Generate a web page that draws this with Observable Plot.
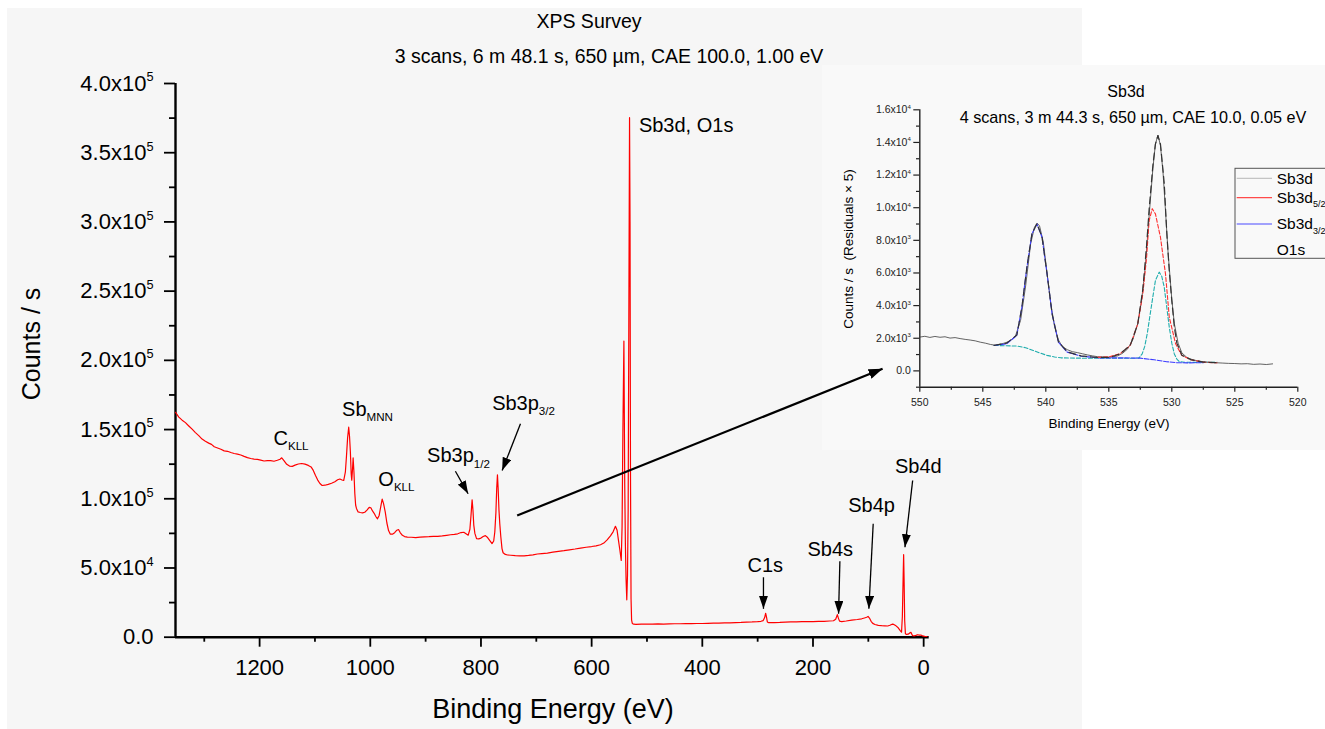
<!DOCTYPE html>
<html>
<head>
<meta charset="utf-8">
<script src="https://cdn.jsdelivr.net/npm/d3@7"></script>
<script src="https://cdn.jsdelivr.net/npm/@observablehq/plot@0.6"></script>
<style>
  html, body { margin: 0; padding: 0; background: #ffffff; overflow: hidden; }
  #root { position: relative; width: 1325px; height: 729px; overflow: hidden;
          font-family: "Liberation Sans", Arial, Helvetica, sans-serif; }
  .abs { position: absolute; }
  #overlay text { white-space: pre; }
</style>
</head>
<body>
<div id="root">
  <div class="abs" style="left:7px;top:8px;width:1075px;height:721px;background:#f6f6f6"></div>
  <div class="abs" style="left:822px;top:65px;width:503px;height:385px;background:#f9f9f9"></div>
  <div id="inset" class="abs" style="left:822px;top:65px;width:503px;height:385px"></div>
  <div id="main" class="abs" style="left:0;top:0;width:1082px;height:729px"></div>
  <svg id="overlay" class="abs" style="left:0;top:0;pointer-events:none" width="1325" height="729"></svg>
</div>
<script>
// ---------------- DATA ----------------
// Survey spectrum: [binding energy (eV), counts/s]
const survey = [
[1352,162500],[1346,159000],[1340,156800],[1334,155000],[1328,152600],[1322,150300],[1316,147800],[1310,145600],
[1304,143100],[1298,141500],[1292,140200],[1287,139300],[1282,137600],[1276,136700],[1270,135800],[1264,134600],
[1258,134300],[1252,133400],[1246,132700],[1240,132200],[1234,131600],[1228,130600],[1222,129700],[1216,129100],
[1210,128700],[1204,128400],[1198,127900],[1192,127300],[1186,127500],[1180,127600],[1174,127100],[1168,127800],
[1163,128600],[1160,129600],[1156,127600],[1151,124900],[1146,123600],[1141,123400],[1136,124300],[1130,125100],
[1124,125500],[1118,125000],[1112,124100],[1107,123000],[1103,120500],[1099,116800],[1095,113500],[1091,111000],
[1087,109600],[1082,109800],[1076,110400],[1070,111200],[1064,112300],[1059,113700],[1055,114300],[1051,113600],
[1048,113200],[1045,119500],[1043,131000],[1041,144000],[1039,151700],[1037.5,145000],[1036,134000],[1034.5,118000],
[1033.5,113500],[1032,122000],[1031,129500],[1029.5,119000],[1028,104000],[1026.5,95500],[1025,93000],[1022,90500],
[1018,90100],[1014,89800],[1010,90300],[1006,91800],[1002,93800],[999,93500],[996,91200],[993,89500],[990,87200],
[987,85500],[984,88000],[981,94500],[978.5,99700],[976,96500],[973,90500],[970,82500],[967,77000],[964,74500],
[960,74400],[956,75500],[952,77300],[949,77800],[946,75600],[942,73600],[938,72700],[933,72300],[926,72200],
[918,72000],[910,72300],[902,72500],[894,72600],[886,72800],[878,72900],[870,73200],[862,73600],[855,74000],
[848,74300],[842,74700],[836,75600],[831,75800],[827,74800],[823,73700],[820,78000],[818,88000],[816,99200],
[814.5,92000],[813,81000],[811,75000],[808,71200],[804,71000],[800,71600],[796,72700],[792,73400],[788,72000],
[784,69800],[780,67600],[777,69500],[775,76000],[773,90000],[771.5,108000],[770.2,117300],[769,108000],[767.5,92000],
[766,82000],[764,72000],[762,64000],[760,61000],[756,59800],[752,59400],[746,59200],[738,58900],[730,58700],
[722,58800],[714,59100],[706,59500],[698,60100],[690,60400],[680,60800],[670,61400],[660,62000],[650,62500],
[640,63100],[630,63700],[620,64400],[610,65000],[600,65500],[592,66000],[584,66800],[578,68000],[572,70300],
[566,73200],[561,76300],[557,80100],[554,77200],[551.5,70000],[549,63000],[546.5,55500],[545,80000],[543.5,150000],
[541.7,213900],[540.2,110000],[539,66700],[537.8,42000],[536.5,27000],[535.2,45000],[534,92000],[532.8,230000],
[531.5,375300],[530.6,300000],[529.8,120000],[528.8,28000],[527.8,12400],[526.5,9900],[524,9400],[520,9300],
[510,9400],[500,9500],[490,9400],[480,9600],[470,9500],[460,9600],[450,9700],[440,9700],[430,9800],[420,9800],
[410,9900],[400,9900],[390,10000],[380,10100],[370,10200],[360,10300],[350,10400],[340,10600],[330,10700],
[320,10900],[310,11000],[300,11200],[294,11500],[290,12000],[287.5,14000],[285.5,17300],[284,14500],[282.5,11000],
[280,10500],[270,10600],[260,10700],[250,10900],[240,11000],[230,11100],[220,11200],[210,11200],[200,11300],
[190,11400],[180,11500],[170,11700],[163,11900],[159,13000],[156,16300],[154,13600],[152,11600],[148,11300],
[140,11700],[130,12300],[120,12800],[112,13300],[107,13900],[103,14400],[100.5,15000],[98,13800],[95,11500],
[92,10000],[88,9200],[82,8600],[76,8300],[70,8200],[65,8100],[61,8600],[57,9400],[54,9200],[50,8200],[46,6800],
[42,4600],[40,3600],[38.5,15000],[37,45000],[36.2,59600],[35.3,40000],[34.3,12000],[33,2500],[31,2000],[28,2200],
[25,3100],[23,3500],[21.5,2200],[20,1100],[17,1000],[14,1300],[11,1800],[8,1500],[5,1600],[2,900],[-2,600],[-6,500]
];

// Peak labels (text anchored at left, vertically centred), data coordinates
const peakLabels = [
  {label: "Sb3d, O1s", be: 514.6, counts: 369900},
  {label: "C_KLL",     be: 1175,  counts: 143500},
  {label: "Sb_MNN",    be: 1051,  counts: 164500},
  {label: "O_KLL",     be: 985.5, counts: 113900},
  {label: "Sb3p_1/2",  be: 897.4, counts: 130900},
  {label: "Sb3p_3/2",  be: 779.8, counts: 168800},
  {label: "C1s",       be: 318.4, counts: 51400},
  {label: "Sb4s",      be: 209.9, counts: 63400},
  {label: "Sb4p",      be: 136.4, counts: 95100},
  {label: "Sb4d",      be: 51.9,  counts: 123000}
];
// Label arrows (start -> tip)
const peakArrows = [
  {be1: 846.2, c1: 119900, be2: 823.2, c2: 103600},
  {be1: 728.6, c1: 154200, be2: 761.7, c2: 120400},
  {be1: 289.5, c1: 43300,  be2: 289.5, c2: 20500},
  {be1: 151.4, c1: 54900,  be2: 153.8, c2: 16900},
  {be1: 91.2,  c1: 81900,  be2: 99.0,  c2: 20500},
  {be1: 19.9,  c1: 113200, be2: 33.8,  c2: 65000}
];
const zoomArrow = [{be1: 734.6, c1: 87900, be2: 74.2, c2: 193900}];

const mainXTicks = [0, 200, 400, 600, 800, 1000, 1200];
const mainXMinor = [100, 300, 500, 700, 900, 1100, 1300];
const mainYTicks = [0, 50000, 100000, 150000, 200000, 250000, 300000, 350000, 400000];
const mainYMinor = [25000, 75000, 125000, 175000, 225000, 275000, 325000, 375000];

// Inset: high-resolution Sb3d / O1s region
const insetRaw = [
[550.0,2070],[549.6,2120],[549.2,2050],[548.8,2110],[548.4,2060],[548.0,2090],[547.6,2010],[547.2,2040],
[546.8,1980],[546.4,1930],[546.0,1890],[545.6,1840],[545.2,1760],[544.8,1700],[544.4,1620],[544.0,1570],
[543.6,1640],[543.2,1720],[542.8,1860],[542.4,2150],[542.0,3100],[541.6,5200],[541.2,7800],[540.9,8800],
[540.7,9050],[540.5,8900],[540.2,7900],[539.9,6000],[539.6,4100],[539.3,2700],[539.0,1900],[538.7,1500],
[538.3,1300],[537.9,1180],[537.5,1120],[537.1,1050],[536.7,980],[536.3,920],[535.9,870],[535.5,850],
[535.1,830],[534.7,860],[534.3,920],[533.9,1080],[533.5,1350],[533.1,1900],[532.7,2900],[532.4,4300],
[532.1,6400],[531.8,9500],[531.5,12400],[531.3,13900],[531.1,14450],[530.9,13800],[530.7,12200],[530.5,9800],
[530.3,7300],[530.0,4400],[529.8,2900],[529.5,1700],[529.2,1100],[528.8,820],[528.4,700],[528.0,620],
[527.5,560],[527.0,520],[526.5,500],[526.0,480],[525.5,460],[525.0,450],[524.5,430],[524.0,440],
[523.5,400],[523.0,420],[522.5,390],[522.0,430]
];
const insetEnvelope = [
[544.1,1560],[543.1,1700],[542.3,2200],[541.9,3900],[541.5,6350],[541.1,8400],[540.7,9020],[540.3,8200],
[539.9,5950],[539.5,3500],[539.0,1780],[538.3,1170],[537.2,920],[535.9,820],[534.9,830],[534.1,1050],
[533.3,1560],[532.7,2880],[532.3,5000],[532.0,7700],[531.8,9900],[531.5,12600],[531.3,13900],[531.1,14420],
[530.9,13900],[530.6,11500],[530.4,8500],[530.2,6100],[530.0,4300],[529.8,2700],[529.6,1700],[529.2,960],
[528.5,690],[527.5,540],[526.4,500]
];
const insetSb52 = [
[535.9,830],[535.0,860],[534.1,1050],[533.3,1560],[532.7,2880],[532.3,4720],[532.0,6960],[531.8,9200],
[531.55,9940],[531.3,9620],[530.9,8190],[530.5,5940],[530.2,3290],[529.7,1660],[529.2,950],[528.5,680],
[527.5,535],[526.4,495]
];
const insetSb32 = [
[544.1,1560],[543.1,1660],[542.3,2170],[541.9,3900],[541.5,6350],[541.1,8400],[540.7,9000],[540.3,8190],
[539.9,5940],[539.5,3490],[539.0,1760],[538.3,1150],[537.2,900],[535.9,800],[534.1,800],[532.5,780],
[531.4,680],[530.4,560],[529.6,500],[528.8,490],[527.5,500]
];
const insetO1s = [
[544.1,1560],[543.2,1540],[542.3,1520],[541.6,1420],[541.0,1250],[540.4,1080],[539.9,950],[539.3,850],
[538.8,800],[537.5,780],[536.0,775],[534.0,770],[533.0,775],[532.6,800],[532.35,1040],[532.15,1500],
[531.95,2270],[531.75,3300],[531.55,4310],[531.3,5540],[531.0,6050],[530.8,5800],[530.6,5130],[530.4,3900],
[530.2,2680],[530.0,1700],[529.8,1040],[529.6,720],[529.4,570],[529.0,530],[528.0,520],[527.0,520],[526.4,520]
];
const insetXTicks = [550, 545, 540, 535, 530, 525, 520];
const insetXMinor = [547.5, 542.5, 537.5, 532.5, 527.5, 522.5];
const insetYTicks = [0, 2000, 4000, 6000, 8000, 10000, 12000, 14000, 16000];
const insetYMinor = [-1000, 1000, 3000, 5000, 7000, 9000, 11000, 13000, 15000];

const legendItems = [
  {label: "Sb3d",      color: "#c4c4c4"},
  {label: "Sb3d_5/2",  color: "#ff4a4a"},
  {label: "Sb3d_3/2",  color: "#4a4aff"},
  {label: "O1s",       color: null}
];

// ---------------- HELPERS ----------------
const FONT = '"Liberation Sans", Arial, Helvetica, sans-serif';
function sci(v) {
  if (v === 0) return "0.0";
  const e = Math.floor(Math.log10(Math.abs(v)) + 1e-9);
  return (v / Math.pow(10, e)).toFixed(1) + "x10^" + e;
}
const SVGNS = "http://www.w3.org/2000/svg";
// turn "A_b" into A with subscript b, "A^b" into A with superscript b
function rich(svg) {
  svg.querySelectorAll("text").forEach(t => {
    if (t.querySelector("tspan")) return;
    const s = t.textContent;
    const m = s.match(/^(.*?)([_^])(.+)$/);
    if (!m) return;
    const fs = parseFloat(getComputedStyle(t).fontSize);
    t.textContent = "";
    t.appendChild(document.createTextNode(m[1]));
    const ts = document.createElementNS(SVGNS, "tspan");
    ts.setAttribute("font-size", (fs * 0.58).toFixed(2));
    ts.setAttribute("dy", (m[2] === "^" ? -fs * 0.42 : fs * 0.27).toFixed(2));
    ts.textContent = m[3];
    t.appendChild(ts);
  });
}
function addMarker(svg, id, len, wid) {
  let defs = svg.querySelector("defs");
  if (!defs) { defs = document.createElementNS(SVGNS, "defs"); svg.insertBefore(defs, svg.firstChild); }
  const mk = document.createElementNS(SVGNS, "marker");
  mk.setAttribute("id", id);
  mk.setAttribute("viewBox", `0 0 ${len} ${wid}`);
  mk.setAttribute("refX", len);
  mk.setAttribute("refY", wid / 2);
  mk.setAttribute("markerWidth", len);
  mk.setAttribute("markerHeight", wid);
  mk.setAttribute("markerUnits", "userSpaceOnUse");
  mk.setAttribute("orient", "auto");
  const p = document.createElementNS(SVGNS, "path");
  p.setAttribute("d", `M0,0L${len},${wid / 2}L0,${wid}Z`);
  p.setAttribute("fill", "#000");
  mk.appendChild(p);
  defs.appendChild(mk);
}

// ---------------- MAIN SURVEY ----------------
const main = Plot.plot({
  width: 1082, height: 729,
  marginLeft: 175, marginRight: 153.3, marginTop: 83, marginBottom: 92.3,
  style: {background: "transparent", fontFamily: FONT, fontSize: "22px", color: "#000", maxWidth: "none", overflow: "visible"},
  x: {domain: [1352, -10]},
  y: {domain: [0, 400000]},
  marks: [
    Plot.axisY({ticks: mainYTicks, tickSize: 11, tickPadding: 11, tickFormat: sci, label: null, strokeWidth: 1.8, fontSize: 22}),
    Plot.axisY({ticks: mainYMinor, tickSize: 6, tickFormat: () => "", label: null, strokeWidth: 1.8}),
    Plot.axisX({ticks: mainXTicks, tickSize: 10, tickPadding: 12, tickFormat: d => String(d), label: null, strokeWidth: 1.8, fontSize: 22}),
    Plot.axisX({ticks: mainXMinor, tickSize: 5, tickFormat: () => "", label: null, strokeWidth: 1.8}),
    Plot.ruleX([1352], {stroke: "#000", strokeWidth: 2.4}),
    Plot.ruleY([0], {stroke: "#000", strokeWidth: 2.4}),
    Plot.line(survey, {x: d => d[0], y: d => d[1], stroke: "#ff0000", strokeWidth: 1.2}),
    Plot.link(peakArrows, {x1: "be1", y1: "c1", x2: "be2", y2: "c2", stroke: "#000", strokeWidth: 1.3}),
    Plot.link(zoomArrow, {x1: "be1", y1: "c1", x2: "be2", y2: "c2", stroke: "#000", strokeWidth: 2.2}),
    Plot.text(peakLabels, {x: "be", y: "counts", text: "label", textAnchor: "start", fontSize: 20, fill: "#000"})
  ]
});
document.getElementById("main").appendChild(main);
rich(main);
addMarker(main, "ahSmall", 13, 9);
addMarker(main, "ahBig", 14, 10);
const linkGroups = main.querySelectorAll('g[aria-label="link"]');
linkGroups.forEach((g, i) => {
  g.querySelectorAll("path").forEach(p => p.setAttribute("marker-end", i === linkGroups.length - 1 ? "url(#ahBig)" : "url(#ahSmall)"));
});

// ---------------- INSET ----------------
const inset = Plot.plot({
  width: 503, height: 385,
  marginLeft: 97.3, marginRight: 27.7, marginTop: 44.3, marginBottom: 63.3,
  style: {background: "transparent", fontFamily: FONT, fontSize: "10.5px", color: "#222", maxWidth: "none", overflow: "visible"},
  x: {domain: [550, 520]},
  y: {domain: [-1000, 16000]},
  marks: [
    Plot.axisY({ticks: insetYTicks, tickSize: 6, tickPadding: 3, tickFormat: sci, label: null, strokeWidth: 1.2, fontSize: 10.5}),
    Plot.axisY({ticks: insetYMinor, tickSize: 3.3, tickFormat: () => "", label: null, strokeWidth: 1.2}),
    Plot.axisX({ticks: insetXTicks, tickSize: 5, tickPadding: 6, tickFormat: d => String(d), label: null, strokeWidth: 1.2, fontSize: 10.5}),
    Plot.axisX({ticks: insetXMinor, tickSize: 3, tickFormat: () => "", label: null, strokeWidth: 1.2}),
    Plot.ruleX([550], {stroke: "#222", strokeWidth: 1.4}),
    Plot.ruleY([-1000], {stroke: "#222", strokeWidth: 1.4}),
    Plot.line(insetRaw, {x: d => d[0], y: d => d[1], stroke: "#3c3c3c", strokeWidth: 0.8}),
    Plot.line(insetO1s, {x: d => d[0], y: d => d[1], stroke: "#1fadad", strokeWidth: 1.1, strokeDasharray: "4,2"}),
    Plot.line(insetSb32, {x: d => d[0], y: d => d[1], stroke: "#3d3dff", strokeWidth: 1.1, strokeDasharray: "5,1.5"}),
    Plot.line(insetSb52, {x: d => d[0], y: d => d[1], stroke: "#ff3030", strokeWidth: 1.1, strokeDasharray: "4,2"}),
    Plot.line(insetEnvelope, {x: d => d[0], y: d => d[1], stroke: "#333", strokeWidth: 1.2, strokeDasharray: "7,4"})
  ]
});
document.getElementById("inset").appendChild(inset);
rich(inset);

// ---------------- TITLES, AXIS TITLES, LEGEND ----------------
const ov = d3.select("#overlay").style("font-family", FONT);
function txt(x, y, s, size, anchor = "middle", rot = 0, family = FONT) {
  const t = ov.append("text")
    .attr("transform", `translate(${x},${y}) rotate(${rot})`)
    .attr("text-anchor", anchor)
    .attr("font-size", size)
    .attr("font-family", family)
    .attr("fill", "#000")
    .attr("xml:space", "preserve")
    .text(s);
  return t;
}
txt(589, 28.3, "XPS Survey", 19.5);
txt(609, 63, "3 scans, 6 m 48.1 s, 650 \u00b5m, CAE 100.0, 1.00 eV", 19.5);
txt(40, 344, "Counts / s", 25, "middle", -90, '"Liberation Sans Narrow", "Liberation Sans", Arial, sans-serif');
txt(553, 718, "Binding Energy (eV)", 27);
txt(1126, 96.7, "Sb3d", 16);
txt(1133, 123.3, "4 scans, 3 m 44.3 s, 650 \u00b5m, CAE 10.0, 0.05 eV", 16.2);
txt(1109, 427.5, "Binding Energy (eV)", 13.5);
txt(853, 249, "Counts / s  (Residuals \u00d7 5)", 13.5, "middle", -90);

// legend
ov.append("rect").attr("x", 1235).attr("y", 168.3).attr("width", 140).attr("height", 90)
  .attr("fill", "none").attr("stroke", "#555").attr("stroke-width", 1);
const legendY = [178.3, 197.7, 224, 249.5];
legendItems.forEach((d, i) => {
  if (d.color) ov.append("line").attr("x1", 1236.7).attr("x2", 1272).attr("y1", legendY[i]).attr("y2", legendY[i])
    .attr("stroke", d.color).attr("stroke-width", 1.2);
  txt(1276.7, legendY[i] + 5.4, d.label, 15.5, "start");
});
rich(document.getElementById("overlay"));
</script>
</body>
</html>
